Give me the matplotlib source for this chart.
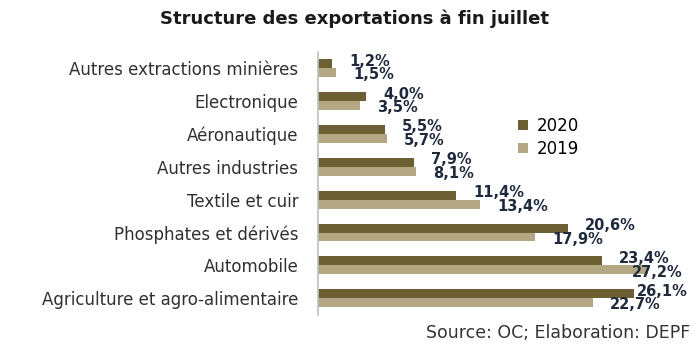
import matplotlib
matplotlib.use("Agg")
import matplotlib.pyplot as plt
import numpy as np

# Structure des exportations (% du total), à fin juillet
categories = [
    "Autres extractions minières",
    "Electronique",
    "Aéronautique",
    "Autres industries",
    "Textile et cuir",
    "Phosphates et dérivés",
    "Automobile",
    "Agriculture et agro-alimentaire",
]
share_2020 = [1.2, 4.0, 5.5, 7.9, 11.4, 20.6, 23.4, 26.1]
share_2019 = [1.5, 3.5, 5.7, 8.1, 13.4, 17.9, 27.2, 22.7]
series_names = ["2020", "2019"]

DARK = "#6c5f33"
LIGHT = "#b4a784"
LABEL_COL = "#1f2a3c"

plt.rcParams["font.family"] = ["DejaVu Sans"]

fig = plt.figure(figsize=(7, 3.5), dpi=100)
ax = fig.add_axes([0.454, 0.101, 0.52, 0.751])

y = np.arange(len(categories))
h = 0.27
ax.barh(y - h / 2, share_2020, height=h, color=DARK, label=series_names[0])
ax.barh(y + h / 2, share_2019, height=h, color=LIGHT, label=series_names[1])

def fmt(v):
    return f"{v:.1f}%".replace(".", ",")

# 2020 labels sit a bit above, 2019 labels a bit below, like the Excel original
for yi, v in zip(y, share_2020):
    ax.text(min(v + 1.4, 26.3), yi - h / 2 - 0.08, fmt(v), ha="left", va="center",
            fontsize=10.5, fontweight="bold", color=LABEL_COL)
for yi, v in zip(y, share_2019):
    ax.text(min(v + 1.4, 25.9), yi + h / 2 + 0.07, fmt(v), ha="left", va="center",
            fontsize=10.5, fontweight="bold", color=LABEL_COL)

ax.set_xlim(0, 30)
ax.set_ylim(len(categories) - 0.5, -0.5)
ax.set_yticks(y)
ax.set_yticklabels(categories, fontsize=12, color="#303030")
ax.tick_params(axis="y", length=0, pad=14)
ax.set_xticks([])
for s in ["top", "right", "bottom"]:
    ax.spines[s].set_visible(False)
ax.spines["left"].set_color("#bfbfbf")
ax.spines["left"].set_linewidth(1.2)

fig.legend(loc="upper left", bbox_to_anchor=(0.728, 0.69), frameon=False,
           fontsize=12, handlelength=0.6, handleheight=0.6, handletextpad=0.5,
           labelspacing=0.3, borderpad=0)

fig.text(0.506, 0.945, "Structure des exportations à fin juillet", ha="center",
         va="center", fontsize=13, fontweight="bold", color="#1a1a1a")
fig.text(0.986, 0.048, "Source: OC; Elaboration: DEPF", ha="right", va="center",
         fontsize=12.5, color="#333333")

fig.savefig("out.png", dpi=100)
